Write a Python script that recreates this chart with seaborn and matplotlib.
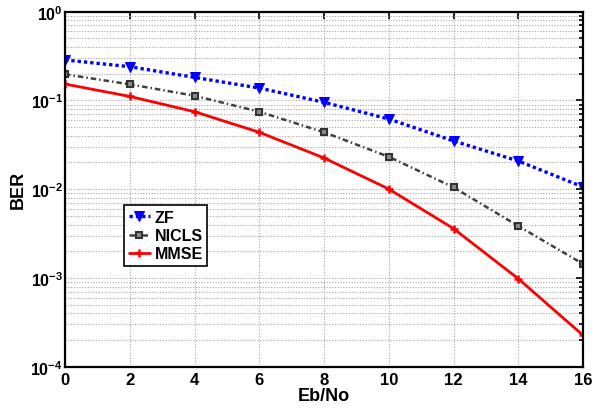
import numpy as np
import pandas as pd
import matplotlib
matplotlib.use("Agg")
import matplotlib.pyplot as plt
import seaborn as sns
from matplotlib.ticker import LogLocator, NullFormatter, FixedLocator, FuncFormatter

# Eb/No values (dB)
ebno = [0, 2, 4, 6, 8, 10, 12, 14, 16]

# Bit error rate per detector
ber_zf = [0.286, 0.240, 0.182, 0.138, 0.0953, 0.0618, 0.035, 0.0208, 0.0106]
ber_nicls = [0.197, 0.152, 0.113, 0.0747, 0.0438, 0.0232, 0.0105, 0.00385, 0.00144]
ber_mmse = [0.153, 0.111, 0.0747, 0.0438, 0.0225, 0.01005, 0.0036, 0.00098, 0.000226]

x_ticks = [0, 2, 4, 6, 8, 10, 12, 14, 16]

sns.set_style("white")
plt.rcParams["font.family"] = ["Liberation Sans", "DejaVu Sans"]
plt.rcParams["font.weight"] = "bold"
plt.rcParams["mathtext.fontset"] = "custom"
plt.rcParams["mathtext.rm"] = "Liberation Sans:bold"
plt.rcParams["mathtext.bf"] = "Liberation Sans:bold"
plt.rcParams["mathtext.default"] = "bf"
for key in ("text.color", "axes.labelcolor", "xtick.color", "ytick.color"):
    plt.rcParams[key] = "black"

fig = plt.figure(figsize=(6.1, 4.1), dpi=100)
ax = fig.add_axes([65 / 610, 1 - 367.7 / 410, 518 / 610, 355 / 410])

df = pd.DataFrame({"Eb/No": ebno, "ZF": ber_zf, "NICLS": ber_nicls, "MMSE": ber_mmse})

sns.lineplot(data=df, x="Eb/No", y="ZF", ax=ax, color="blue", dashes=False,
             linewidth=2.4, marker="v", markersize=7, markeredgecolor="blue",
             markerfacecolor="blue", label="ZF")
sns.lineplot(data=df, x="Eb/No", y="NICLS", ax=ax, color="0.25",
             linewidth=1.8, marker="s", markersize=5, markeredgecolor="0.2",
             markerfacecolor="0.55", markeredgewidth=1.5, label="NICLS")
sns.lineplot(data=df, x="Eb/No", y="MMSE", ax=ax, color="red", linestyle="-",
             linewidth=2.0, marker="+", markersize=6, markeredgecolor="red",
             markeredgewidth=1.8, label="MMSE")

line_zf, line_nicls, line_mmse = ax.get_lines()[:3]
line_zf.set_dashes((1.0, 0.9))
line_nicls.set_dashes((2.2, 1.2, 0.6, 1.2))

ax.set_yscale("log")
ax.set_xlim(0, 16)
ax.set_ylim(1e-4, 1)
ax.xaxis.set_major_locator(FixedLocator(x_ticks))
ax.yaxis.set_major_locator(LogLocator(base=10, numticks=10))
ax.yaxis.set_major_formatter(FuncFormatter(
    lambda v, pos: r"$10^{%d}$" % int(round(np.log10(v)))))
ax.yaxis.set_minor_locator(LogLocator(base=10, subs=np.arange(2, 10), numticks=100))
ax.yaxis.set_minor_formatter(NullFormatter())

grid_kw = dict(color="0.65", linestyle=(0, (1, 1.5)), linewidth=0.8)
ax.grid(True, which="major", axis="both", **grid_kw)
ax.grid(True, which="minor", axis="y", **grid_kw)

ax.tick_params(axis="both", which="both", direction="in", top=True, right=True,
               width=1.2, color="black", labelcolor="black")
ax.tick_params(axis="x", which="major", labelsize=12, length=5, pad=4)
ax.tick_params(axis="y", which="major", labelsize=11.5, length=5, pad=1.5)
ax.tick_params(axis="y", which="minor", length=3)
for lab in ax.get_xticklabels() + ax.get_yticklabels():
    lab.set_fontweight("bold")

for sp in ax.spines.values():
    sp.set_linewidth(1.6)
    sp.set_color("black")

ax.set_xlabel("Eb/No", fontsize=13, fontweight="bold", labelpad=0, color="black")
ax.set_ylabel("BER", fontsize=13, fontweight="bold", color="black")
ax.yaxis.set_label_coords(-0.074, 0.5)

leg = ax.legend(loc="upper left", bbox_to_anchor=(0.114, 0.455), borderaxespad=0,
                fancybox=False, edgecolor="black", framealpha=1, handlelength=1.3,
                handletextpad=0.3, borderpad=0.3, labelspacing=0.2,
                prop={"weight": "bold", "size": 11.5}, labelcolor="black")
leg.get_frame().set_linewidth(1.2)

fig.savefig("out.png", dpi=100)
